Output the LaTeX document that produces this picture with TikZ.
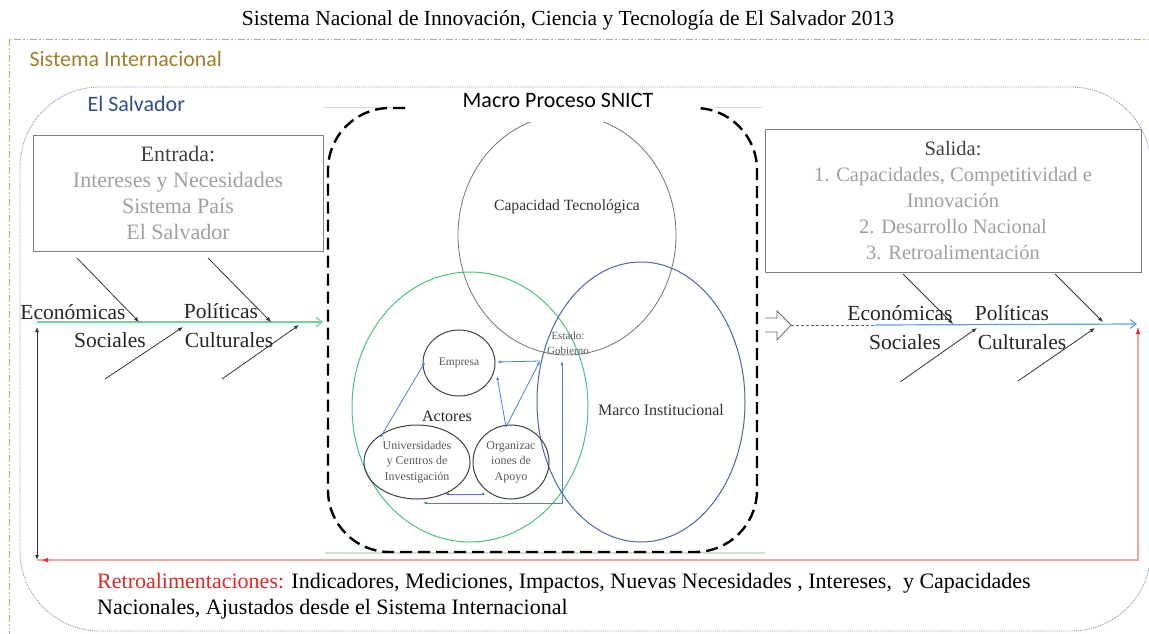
\documentclass[tikz,border=0pt]{standalone}
\usepackage{fontspec}
\setmainfont{Liberation Serif}
\newfontfamily\calfont{Carlito}
\usetikzlibrary{arrows.meta,shapes.geometric,calc}
\definecolor{goldline}{HTML}{BFA872}
\definecolor{goldtext}{HTML}{9E7F2D}
\definecolor{sline}{HTML}{8096C4}
\definecolor{stext}{HTML}{2F4F8F}
\definecolor{boxgray}{HTML}{7F7F7F}
\definecolor{ltext}{HTML}{A0A0A0}
\definecolor{dtext}{HTML}{404040}
\definecolor{gline}{HTML}{6FD39A}
\definecolor{gell}{HTML}{4DC27C}
\definecolor{bell}{HTML}{4C66A6}
\definecolor{barrow}{HTML}{4A7FD8}
\definecolor{rblue}{HTML}{5BA3E0}
\definecolor{rline}{HTML}{FFA0A0}
\definecolor{rtip}{HTML}{FF2020}
\definecolor{rtext}{HTML}{E02828}
\begin{document}
\begin{tikzpicture}[x=1pt,y=-1pt,
  lbl/.style={font=\fontsize{21.5}{24}\selectfont, text=black!85, inner sep=0},
  fish/.style={black!80, line width=0.8pt, -{Latex[length=5pt,width=4pt]}},
  actor/.style={ellipse, draw=black!75, line width=1pt, inner sep=0},
  small/.style={font=\fontsize{12}{15.5}\selectfont, text=black!65, align=center},
  bar/.style={barrow, line width=0.8pt},
  btip/.style={-{Latex[length=4pt,width=3pt]}},
  sans/.style={font=\calfont\fontsize{22}{24}\selectfont},
]
\useasboundingbox (0,0) rectangle (1149,633);
\fill[white] (0,0) rectangle (1149,633);

% title
\node[font=\fontsize{21.5}{24}\selectfont] (title) at (568,20) {Sistema Nacional de Innovación, Ciencia y Tecnología de El Salvador 2013};

% Sistema Internacional
\draw[goldline, line width=1pt, dash pattern=on 7pt off 2pt on 1.5pt off 2pt on 1.5pt off 2pt] (9,39) rectangle (1170,660);
\node[anchor=west, sans, text=goldtext] (sint) at (26,59) {Sistema Internacional};

% El Salvador
\draw[sline, line width=0.9pt, densely dotted, rounded corners=80] (20,87) rectangle (1151,631);
\node[anchor=west, sans, text=stext] (esal) at (84,104) {El Salvador};

% Capacidad Tecnologica ellipse (drawn first, masked at top)
\node[ellipse, draw=black!55, line width=0.8pt, minimum width=218, minimum height=240, inner sep=0] (cap) at (567,235) {};
\fill[white] (405,90) rectangle (715,122);
\node[sans] (macro) at (558,100) {Macro Proceso SNICT};
\draw[black!15, line width=0.8pt] (323,107) -- (405,107);
\draw[black!15, line width=0.8pt] (715,107) -- (763,107);
\draw[black!15, line width=1.2pt] (325,553) -- (765,553);

% dashed macro frame
\draw[black, line width=2.4pt, dash pattern=on 12pt off 6pt, rounded corners=62]
  (405,108) -- (328,108) -- (328,552) -- (757,552) -- (757,108) -- (695,108);

% green and blue ellipses
\node[ellipse, draw=gell, line width=1pt, minimum width=236, minimum height=270, inner sep=0] (act) at (470,407) {};
\node[ellipse, draw=bell, line width=1pt, minimum width=208, minimum height=280, inner sep=0] (marco) at (641,402) {};

\node[font=\fontsize{15.6}{17}\selectfont, text=black!80] (captxt) at (567,207) {Capacidad Tecnológica};
\node[font=\fontsize{16}{18}\selectfont, text=black!80] (marcotxt) at (661,410) {Marco Institucional};
\node[font=\fontsize{16}{18}\selectfont, text=black!85] (actores) at (447,416) {Actores};
\node[small, font=\fontsize{11}{15}\selectfont] (estado) at (568,343) {Estado:\\Gobierno};

% actors
\node[actor, minimum width=72, minimum height=66, font=\fontsize{11.5}{14}\selectfont, text=black!65] (emp) at (459,363) {Empresa};
\node[actor, minimum width=106, minimum height=74] (univ) at (417,462) {};
\node[small] at (417,462) {Universidades\\y Centros de\\Investigación};
\node[actor, minimum width=76, minimum height=74] (org) at (511,462) {};
\node[small] at (511,462) {Organizac\\iones de\\Apoyo};

\coordinate (gob) at (540,361);
\coordinate (gob2) at (562,361);
\coordinate (orgtop) at (506,427);
\draw[bar, {Latex[length=4pt,width=3pt]}-{Latex[length=4pt,width=3pt]}] (380,438) -- (425,362);
\draw[bar, btip] (gob) -- (497,362);
\draw[bar, btip] (orgtop) -- (gob);
\draw[bar, btip] (orgtop) -- (497,376);
\draw[bar, {Latex[length=4pt,width=3pt]}-{Latex[length=4pt,width=3pt]}] (445,494) -- (486,494);
\draw[bar, {Latex[length=4pt,width=3pt]}-{Latex[length=4pt,width=3pt]}] (gob2) -- (562,503) -- (423,503);

% Entrada box
\node[draw=boxgray, line width=1pt, minimum width=290, minimum height=116, inner sep=0, align=center,
      font=\fontsize{22}{26}\selectfont] (entrada) at (178,193)
  {\textcolor{dtext}{Entrada:}\\\textcolor{ltext}{Intereses y Necesidades}\\\textcolor{ltext}{Sistema País}\\\textcolor{ltext}{El Salvador}};

% Salida box
\node[draw=boxgray, line width=1pt, minimum width=376, minimum height=143, inner sep=0, align=center,
      font=\fontsize{20.5}{26.2}\selectfont] (salida) at (953,200.5)
  {\textcolor{dtext}{Salida:}\\\textcolor{ltext}{1. Capacidades, Competitividad e}\\\textcolor{ltext}{Innovación}\\\textcolor{ltext}{2. Desarrollo Nacional}\\\textcolor{ltext}{3. Retroalimentación}};

% left fishbone
\coordinate (lA) at (37,322);
\coordinate (lB) at (323,322);
\draw[gline, line width=1.2pt, -{Straight Barb[length=6pt,width=9pt]}] (lA) -- (lB);
\draw[fish] (77,258) -- (139,322);
\draw[fish] (208,258) -- (271,322);
\draw[fish] (105,379) -- (183,327);
\draw[fish] (222,379) -- (299,325);
\node[lbl] (le) at (73,312) {Económicas};
\node[lbl] (lp) at (221,311) {Políticas};
\node[lbl] (ls) at (110,340) {Sociales};
\node[lbl] (lc) at (229,340) {Culturales};

% right fishbone
\draw[black!60, line width=0.8pt, fill=white] (765,318) -- (777,318) -- (777,311) -- (791,325) -- (777,340) -- (777,332) -- (765,332);
\coordinate (rA) at (791,325);
\coordinate (rM) at (875,325);
\coordinate (rB) at (1137,324);
\draw[black!60, line width=0.8pt, densely dashed] (rA) -- (rM);
\draw[rblue, line width=1.2pt, -{Straight Barb[length=6pt,width=9pt]}] (rM) -- (rB);
\draw[fish] (903,274) -- (953,324);
\draw[fish] (1055,274) -- (1103,322);
\draw[fish] (900,382) -- (977,328);
\draw[fish] (1018,381) -- (1095,328);
\node[lbl] (re) at (900,313) {Económicas};
\node[lbl] (rp) at (1012,313) {Políticas};
\node[lbl] (rs) at (905,342) {Sociales};
\node[lbl] (rc) at (1022,342) {Culturales};

% feedback loop
\coordinate (fbL) at (37,560);
\coordinate (fbLt) at (37,327);
\coordinate (fbR) at (1138,560);
\coordinate (fbRt) at (1138,328);
\draw[black!80, line width=1pt, {Latex[length=5pt,width=4pt]}-{Latex[length=5pt,width=4pt]}] (fbL) -- (fbLt);
\draw[rline, line width=1.6pt] (fbRt) -- (fbR) -- (fbL);
\draw[rline, line width=1.6pt, -{Latex[length=6pt,width=5pt,color=rtip]}] (1138,340) -- (fbRt);
\draw[rline, line width=1.6pt, -{Latex[length=6pt,width=5pt,color=rtip]}] (60,560) -- (42,560);

% bottom text
\node[anchor=base west, font=\fontsize{22}{25}\selectfont, inner sep=0] (fbtxt1) at (97,588)
  {\textcolor{rtext}{Retroalimentaciones:} Indicadores, Mediciones, Impactos, Nuevas Necesidades , Intereses,\ \ y Capacidades};
\node[anchor=base west, font=\fontsize{22}{25}\selectfont, inner sep=0] (fbtxt2) at (97,614)
  {Nacionales, Ajustados desde el Sistema Internacional};
\end{tikzpicture}
\end{document}
